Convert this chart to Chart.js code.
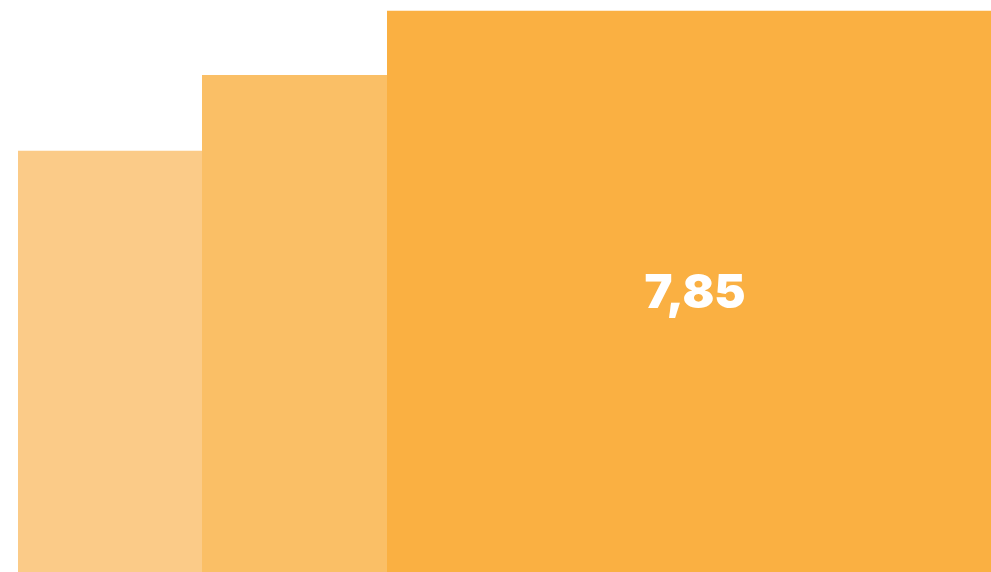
<!DOCTYPE html>
<html>
<head>
<meta charset="utf-8">
<script src="https://cdn.jsdelivr.net/npm/chart.js@4"></script>
<style>
  html, body { margin: 0; padding: 0; background: #fff; }
  #wrap { width: 991px; height: 572px; }
</style>
</head>
<body>
<div id="wrap"><canvas id="myChart"></canvas></div>
<script>
// data
var labels = ['A', 'B', 'C']
var values = [5.89, 6.95, 7.85]
var widths = [184, 185, 604]
var cores = ['#FBCB88', '#FABF66', '#FAB042']
var valueLabels = ['', '', '7,85']

var dataSets = []
var start = 0
for (var i = 0; i < values.length; i++) {
    dataSets.push({
        label: labels[i],
        data: [{x: start, y: values[i]}, {x: start + widths[i], y: values[i]}],
        fill: 'origin',
        backgroundColor: cores[i],
        borderWidth: 0,
        pointRadius: 0,
        tension: 0
    })
    start += widths[i]
}
var total = start

// text in the middle of each block
const blockLabels = {
    id: 'blockLabels',
    afterDatasetsDraw(chart) {
        const ctx = chart.ctx
        const x = chart.scales.x
        const y = chart.scales.y
        ctx.save()
        ctx.fillStyle = '#ffffff'
        ctx.font = '900 47px Inter, "Noto Sans", sans-serif'
        ctx.textAlign = 'center'
        ctx.textBaseline = 'middle'
        var s = 0
        for (var i = 0; i < values.length; i++) {
            if (valueLabels[i]) {
                var cx = x.getPixelForValue(s + widths[i] / 2) + 6
                var cy = y.getPixelForValue(values[i] / 2) + 3
                ctx.fillText(valueLabels[i], cx, cy)
            }
            s += widths[i]
        }
        ctx.restore()
    }
}

const ctx = document.getElementById('myChart')
new Chart(ctx, {
    type: 'line',
    data: { datasets: dataSets },
    options: {
        responsive: true,
        maintainAspectRatio: false,
        animation: false,
        layout: { padding: { left: 18, right: 0, top: 0, bottom: 0 } },
        plugins: { legend: { display: false }, tooltip: { enabled: false } },
        scales: {
            x: { type: 'linear', min: 0, max: total, display: false },
            y: { min: 0, max: 8, display: false }
        }
    },
    plugins: [blockLabels]
})
</script>
</body>
</html>
